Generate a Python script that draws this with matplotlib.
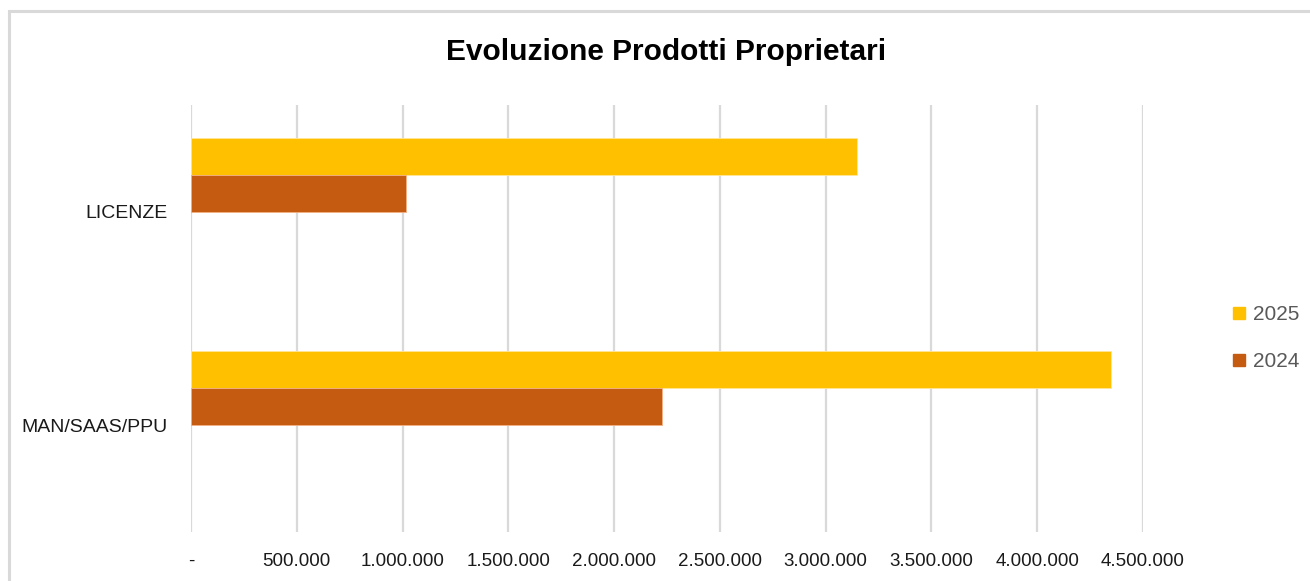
import matplotlib
matplotlib.use("Agg")
import matplotlib.pyplot as plt
from matplotlib.lines import Line2D
from matplotlib.patches import Rectangle
from matplotlib.ticker import FuncFormatter, MultipleLocator

# --- data ---
categories = ["MAN/SAAS/PPU", "LICENZE"]   # bottom -> top
vals_2025 = [4350000, 3150000]
vals_2024 = [2228000, 1017000]
series_labels = ["2025", "2024"]
colors = ["#FFC000", "#C55A11"]
title = "Evoluzione Prodotti Proprietari"
# -------------

plt.rcParams['font.family'] = ['Liberation Sans', 'DejaVu Sans']

fig = plt.figure(figsize=(13.1, 5.81), dpi=100)
ax = fig.add_axes([191 / 1310, 49 / 581, 952 / 1310, 427 / 581])

h = 0.173
ypos = list(range(len(categories)))
ax.barh([y + 1.5 * h for y in ypos], vals_2025, height=h, color=colors[0],
        edgecolor="#FFE699", linewidth=0.6, zorder=3)
ax.barh([y + 0.5 * h for y in ypos], vals_2024, height=h, color=colors[1],
        edgecolor="#F4B183", linewidth=0.6, zorder=3)

ax.set_xlim(0, 4500000)
ax.set_ylim(-0.5, 1.5)
ax.xaxis.set_major_locator(MultipleLocator(500000))


def fmt(v, pos):
    if v == 0:
        return "-"
    return f"{int(round(v)):,}".replace(",", ".")


ax.xaxis.set_major_formatter(FuncFormatter(fmt))
ax.set_yticks(ypos)
ax.set_yticklabels(categories)
ax.grid(axis="x", color="#D9D9D9", linewidth=1.6, zorder=0)
ax.set_axisbelow(True)
for s in ax.spines.values():
    s.set_visible(False)
ax.tick_params(axis="x", length=0, pad=15, labelsize=13.5, labelcolor="#1a1a1a")
ax.tick_params(axis="y", length=0, pad=17, labelsize=14, labelcolor="#1a1a1a")

fig.text(666 / 1310, 1 - 52 / 581, title, ha="center", va="center",
         fontsize=21.5, fontweight="bold",
         family=['Liberation Sans Narrow', 'Liberation Sans', 'DejaVu Sans'])

handles = [Line2D([], [], marker="s", linestyle="none", markersize=9,
                  markerfacecolor=c, markeredgecolor=c) for c in colors]
fig.legend(handles, series_labels, loc="upper left",
           bbox_to_anchor=(1224 / 1310, 1 - 297 / 581), frameon=False,
           fontsize=15, labelcolor="#595959", handlelength=0.6,
           handletextpad=0.4, labelspacing=1.35, borderaxespad=0)

# chart border (only top and left edges inside the picture)
fig.patches.append(Rectangle((9 / 1310, -0.1), 1.2, 1 - 11 / 581 + 0.1,
                             transform=fig.transFigure, fill=False,
                             edgecolor="#D9D9D9", linewidth=2.2))

fig.savefig("out.png", dpi=100)
